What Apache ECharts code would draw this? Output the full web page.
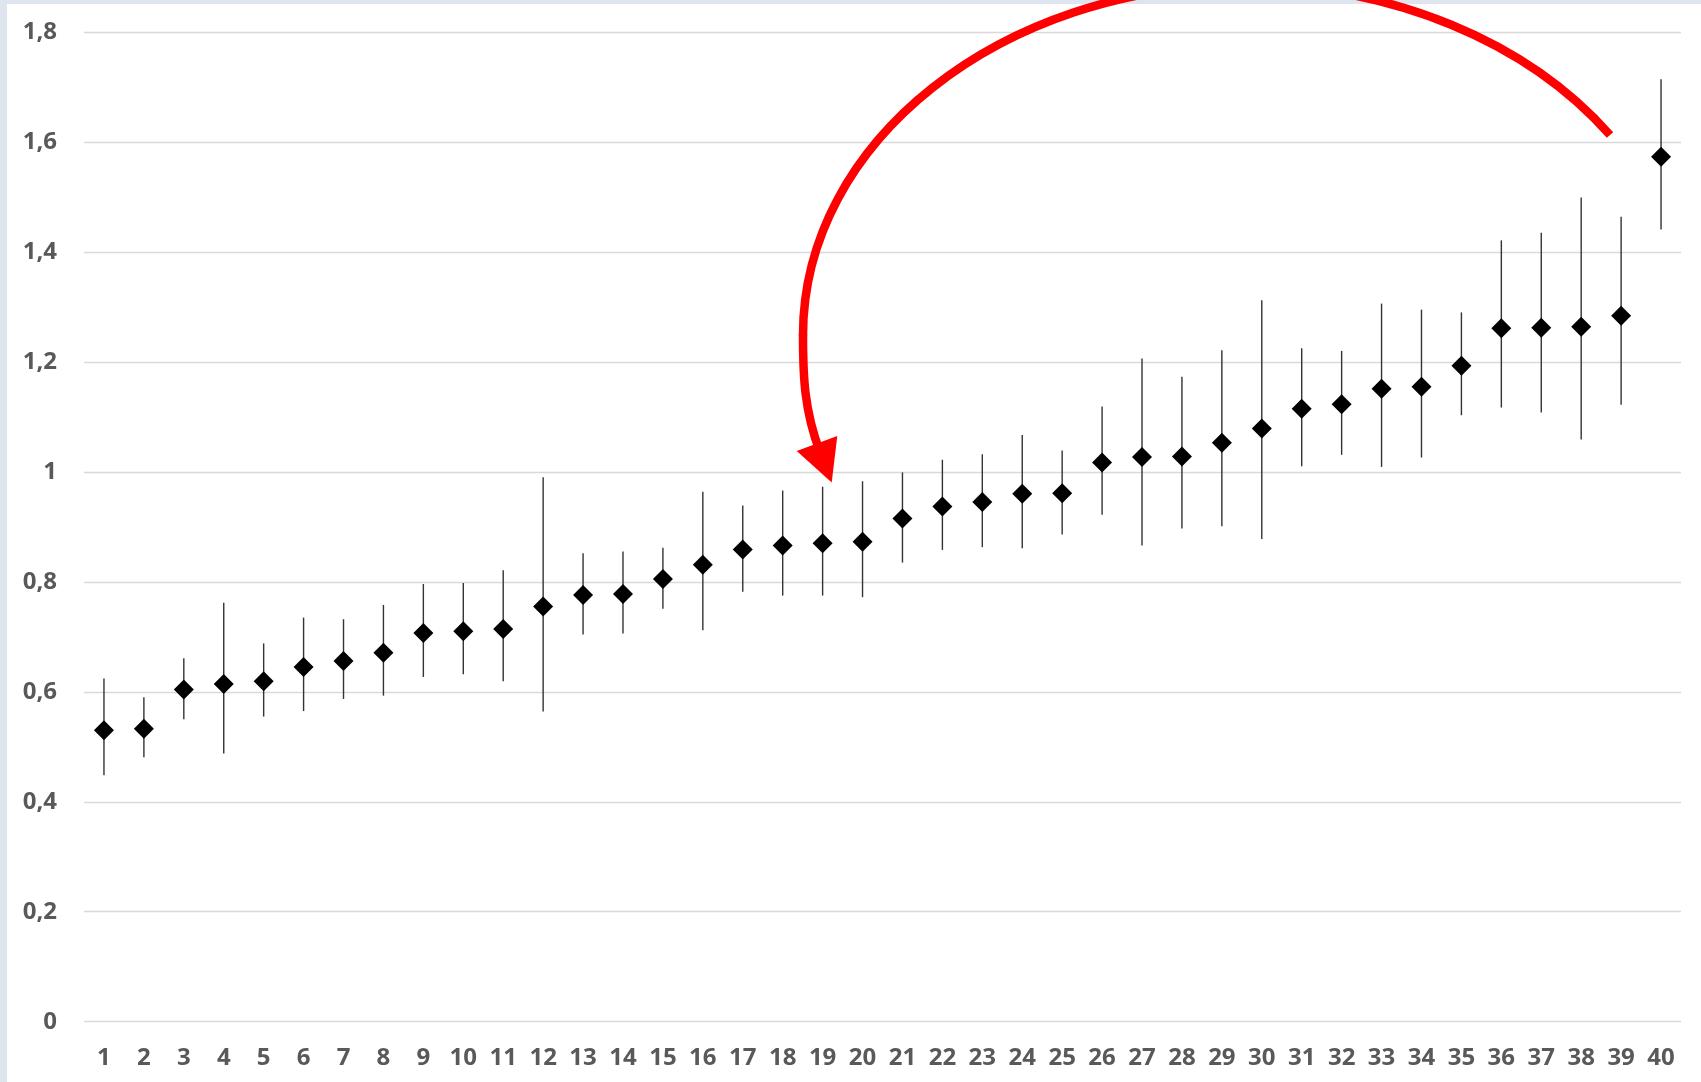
<!DOCTYPE html>
<html>
<head>
<meta charset="utf-8">
<title>Mittelwerte mit Streubereich</title>
<script src="https://cdn.jsdelivr.net/npm/echarts@6/dist/echarts.min.js"></script>
<style>
  html, body { margin: 0; padding: 0; background: #ffffff; }
  #chart { width: 1701px; height: 1082px; }
</style>
</head>
<body>
<div id="chart"></div>
<script>
// Category labels along the x axis
const categories = ['1','2','3','4','5','6','7','8','9','10',
  '11','12','13','14','15','16','17','18','19','20',
  '21','22','23','24','25','26','27','28','29','30',
  '31','32','33','34','35','36','37','38','39','40'];

// Point estimates (diamond markers)
const means = [0.530, 0.533, 0.604, 0.614, 0.619, 0.645, 0.656, 0.671, 0.707, 0.710,
  0.714, 0.755, 0.776, 0.778, 0.805, 0.831, 0.859, 0.866, 0.870, 0.873,
  0.915, 0.937, 0.945, 0.960, 0.961, 1.017, 1.027, 1.028, 1.053, 1.079,
  1.115, 1.123, 1.151, 1.155, 1.193, 1.261, 1.262, 1.264, 1.284, 1.573];

// Lower ends of the error bars
const lows = [0.448, 0.481, 0.550, 0.488, 0.555, 0.565, 0.587, 0.593, 0.627, 0.632,
  0.619, 0.564, 0.704, 0.706, 0.751, 0.712, 0.782, 0.775, 0.775, 0.772,
  0.835, 0.858, 0.863, 0.861, 0.886, 0.922, 0.866, 0.897, 0.901, 0.878,
  1.010, 1.031, 1.009, 1.026, 1.103, 1.117, 1.108, 1.059, 1.122, 1.441];

// Upper ends of the error bars
const highs = [0.624, 0.590, 0.661, 0.762, 0.688, 0.735, 0.732, 0.758, 0.796, 0.798,
  0.821, 0.990, 0.852, 0.855, 0.862, 0.964, 0.939, 0.966, 0.973, 0.983,
  0.999, 1.022, 1.032, 1.067, 1.039, 1.119, 1.206, 1.173, 1.221, 1.312,
  1.225, 1.220, 1.306, 1.295, 1.290, 1.421, 1.435, 1.499, 1.464, 1.714];

// Y axis ticks
const yMin = 0, yMax = 1.8, yStep = 0.2;

const errorData = categories.map((c, i) => [i, lows[i], highs[i]]);
const pointData = categories.map((c, i) => [i, means[i]]);

const chart = echarts.init(document.getElementById('chart'), null, { renderer: 'canvas' });

const labelFont = {
  fontFamily: '"Open Sans", "Noto Sans", sans-serif',
  fontWeight: 'bold',
  fontSize: 24,
  color: '#595959'
};

const arrowStyle = { fill: null, stroke: '#ff0000', lineWidth: 8.5 };

chart.setOption({
  backgroundColor: '#ffffff',
  animation: false,
  grid: { left: 84, right: 20, top: 32, bottom: 60.3, containLabel: false },
  xAxis: {
    type: 'category',
    data: categories,
    boundaryGap: true,
    axisLine: { show: false },
    axisTick: { show: false },
    splitLine: { show: false },
    axisLabel: Object.assign({ interval: 0, margin: 24 }, labelFont)
  },
  yAxis: {
    type: 'value',
    min: yMin,
    max: yMax,
    interval: yStep,
    axisLine: { show: false },
    axisTick: { show: false },
    splitLine: { show: true, lineStyle: { color: '#d9d9d9', width: 1.3 } },
    axisLabel: Object.assign({
      margin: 27,
      formatter: v => String(Math.round(v * 10) / 10).replace('.', ',')
    }, labelFont)
  },
  series: [
    {
      // vertical error bars without caps
      type: 'custom',
      data: errorData,
      z: 2,
      renderItem: function (params, api) {
        const p1 = api.coord([api.value(0), api.value(1)]);
        const p2 = api.coord([api.value(0), api.value(2)]);
        return {
          type: 'line',
          shape: { x1: p1[0], y1: p1[1], x2: p2[0], y2: p2[1] },
          style: { stroke: '#333333', lineWidth: 1.4 }
        };
      }
    },
    {
      type: 'scatter',
      data: pointData,
      symbol: 'diamond',
      symbolSize: 20,
      z: 3,
      itemStyle: { color: '#000000', opacity: 1 }
    }
  ],
  graphic: [
    // light frame strips along the left and top edges
    { type: 'rect', left: 0, top: 0, shape: { width: 7, height: 1082 }, style: { fill: '#dfe5ee' }, z: 0 },
    { type: 'rect', left: 0, top: 0, shape: { width: 1701, height: 4 }, style: { fill: '#dfe5ee' }, z: 0 },
    // curved red arrow, drawn as three joined bezier pieces
    {
      type: 'bezierCurve', z: 10,
      shape: { x1: 1610, y1: 135, cpx1: 1527, cpy1: 41, cpx2: 1391, cpy2: -15, x2: 1246, y2: -15 },
      style: Object.assign({ lineCap: 'butt' }, arrowStyle)
    },
    {
      type: 'bezierCurve', z: 10,
      shape: { x1: 1246, y1: -15, cpx1: 1001, cpy1: -15, cpx2: 803, cpy2: 142, x2: 803, y2: 335 },
      style: Object.assign({ lineCap: 'round' }, arrowStyle)
    },
    {
      type: 'bezierCurve', z: 10,
      shape: { x1: 803, y1: 335, cpx1: 803, cpy1: 375, cpx2: 804, cpy2: 410, x2: 820, y2: 452 },
      style: Object.assign({ lineCap: 'round' }, arrowStyle)
    },
    {
      type: 'polygon', z: 11,
      shape: { points: [[796.7, 451], [837.3, 436], [831.7, 482.5]] },
      style: { fill: '#ff0000' }
    }
  ]
});
</script>
</body>
</html>
